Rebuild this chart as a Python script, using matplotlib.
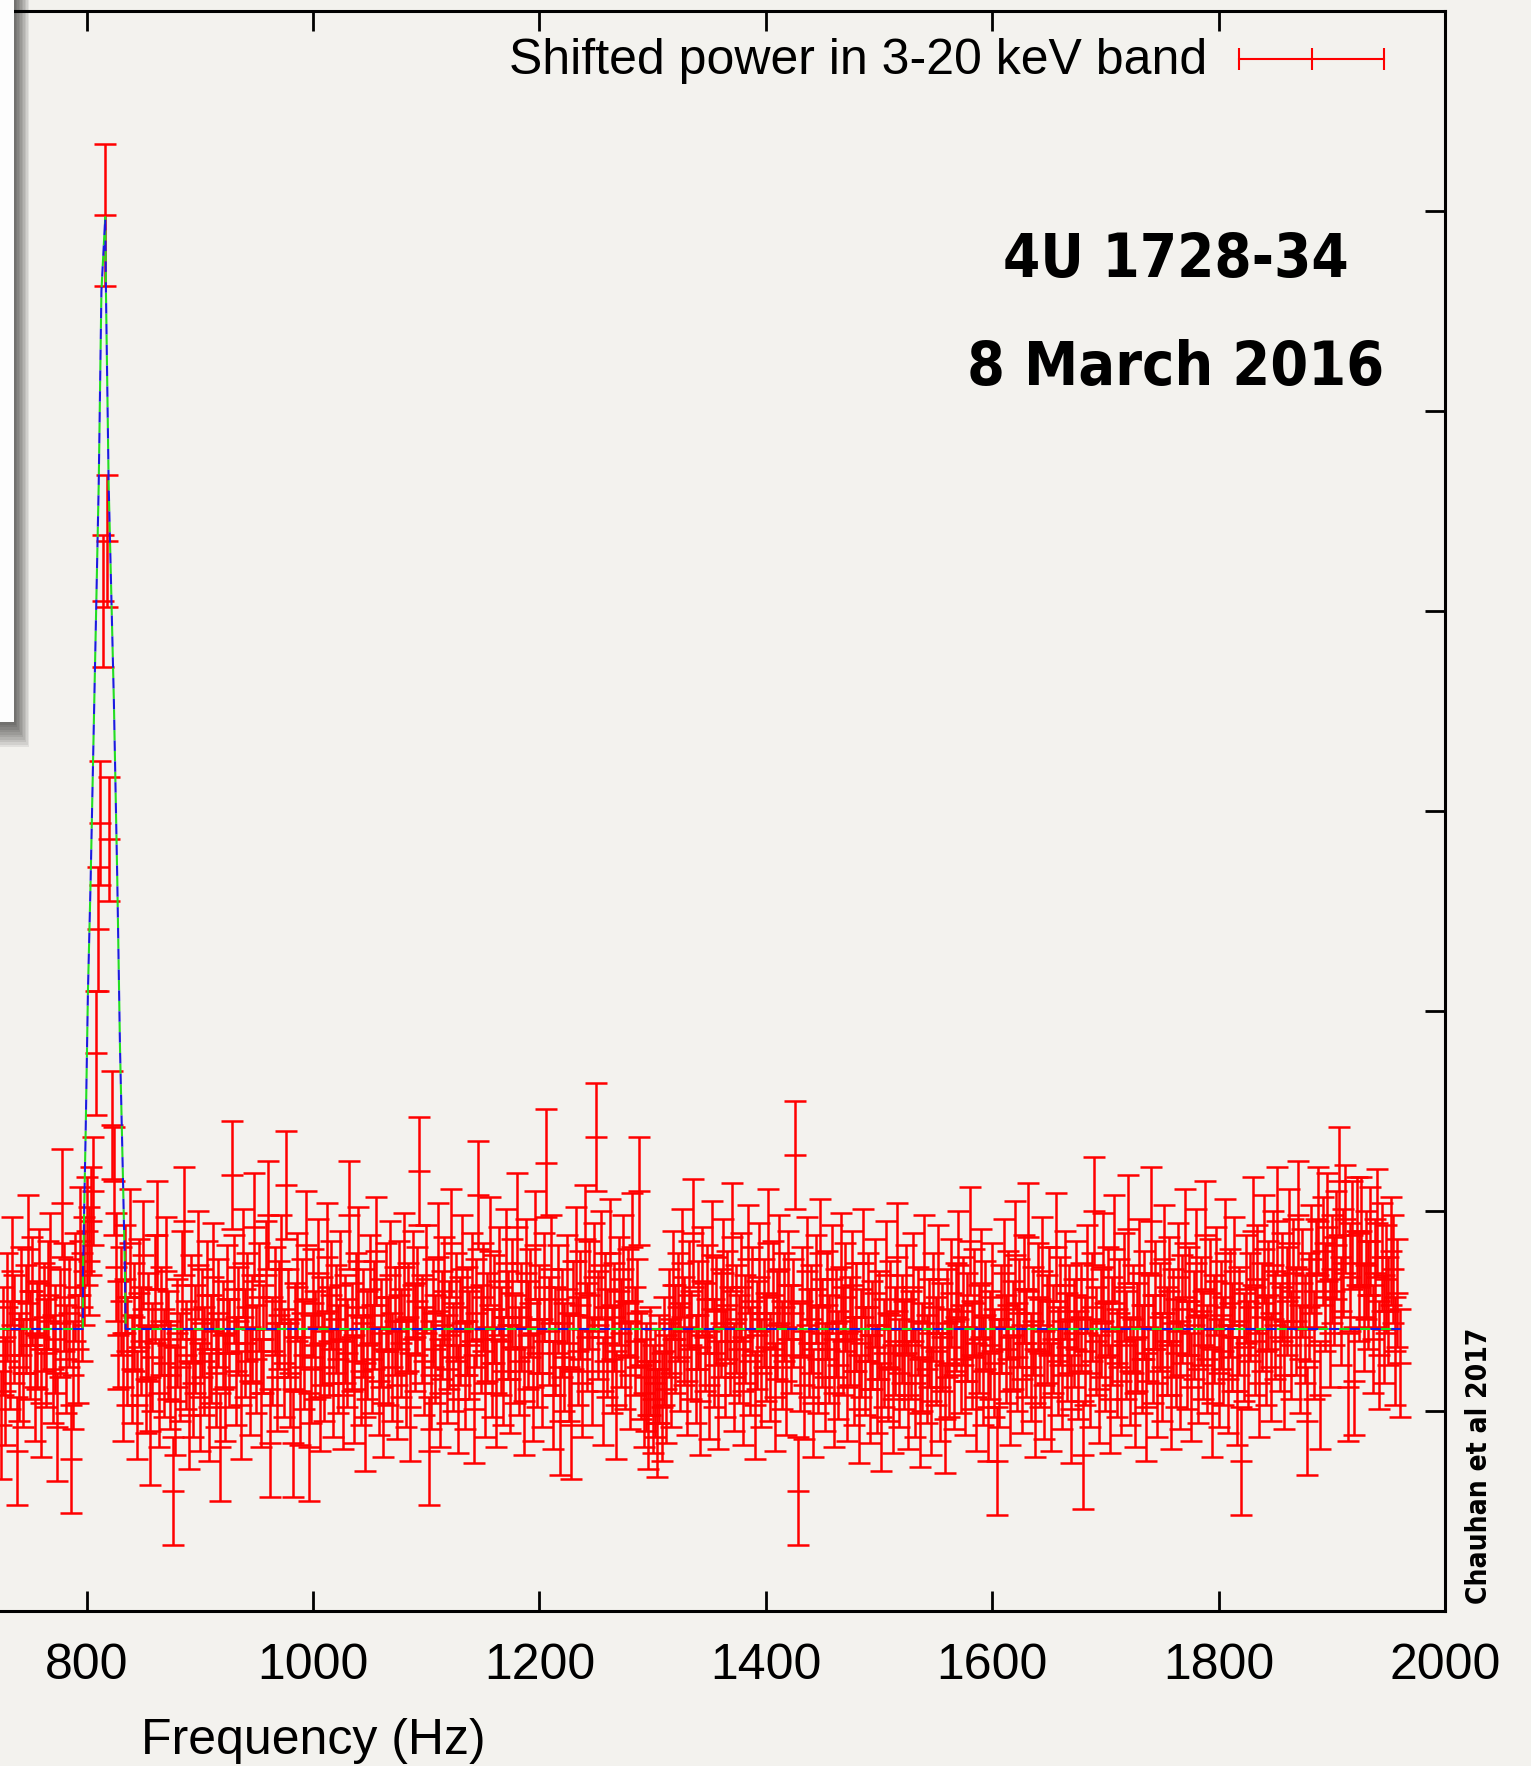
import numpy as np
import matplotlib
matplotlib.use("Agg")
import matplotlib.pyplot as plt
from matplotlib import font_manager
from matplotlib.font_manager import FontProperties
from matplotlib.patches import Rectangle

# averaged, frequency-shifted power spectrum, 2 Hz bins starting at 724 Hz
power = [
    0.93, 1.35, 1.10, 1.52, 1.28, 1.70, 1.41, 0.80, 1.22, 1.55, 1.19, 1.46, 1.81, 1.33, 1.60, 1.12, 1.38, 1.64, 1.04, 1.47, 1.29, 1.58, 1.72, 1.21, 1.36,  # 724
    0.92, 1.44, 2.04, 1.57, 1.26, 1.49, 0.76, 1.18, 1.62, 1.31, 1.85, 1.52, 1.70, 1.90, 1.75, 1.95, 2.10, 2.79, 3.41, 3.94, 5.05, 6.98, 5.35, 3.86, 2.43,  # 774
    2.15, 1.72, 1.38, 1.55, 1.12, 1.66, 1.30, 1.84, 1.21, 1.47, 1.03, 1.59, 1.35, 1.78, 1.16, 1.42, 0.90, 1.27, 1.61, 1.88, 1.09, 1.45, 1.24, 1.70, 1.33,  # 824
    1.18, 0.60, 1.05, 1.39, 1.22, 1.63, 1.95, 1.28, 0.98, 1.51, 1.14, 1.36, 1.73, 1.07, 1.44, 1.25, 1.58, 1.02, 1.31, 1.67, 1.19, 1.49, 0.82, 1.38, 1.12,  # 874
    1.56, 1.29, 2.18, 1.61, 1.20, 1.45, 1.03, 1.74, 1.34, 1.52, 1.15, 1.41, 1.92, 1.26, 1.57, 1.09, 1.36, 1.68, 1.98, 0.84, 1.30, 1.55, 1.17, 1.48, 1.71,  # 924
    1.24, 2.13, 1.44, 1.19, 0.84, 1.37, 1.62, 1.10, 1.49, 1.28, 1.83, 0.82, 1.21, 1.54, 1.33, 1.69, 1.07, 1.40, 1.22, 1.77, 1.35, 1.58, 1.14, 1.46, 1.26,  # 974
    1.63, 1.08, 1.41, 1.29, 1.98, 1.37, 1.11, 1.52, 1.75, 1.20, 1.44, 0.97, 1.33, 1.61, 1.26, 1.48, 1.80, 1.15, 1.39, 1.04, 1.57, 1.30, 1.68, 1.22, 1.45,  # 1024
    1.13, 1.58, 1.34, 1.72, 1.19, 1.47, 1.02, 1.63, 1.37, 1.55, 2.20, 1.41, 1.25, 1.66, 0.80, 1.18, 1.49, 1.31, 1.77, 1.09, 1.43, 1.60, 1.21, 1.38, 1.84,  # 1074
    1.27, 1.52, 1.06, 1.40, 1.71, 1.18, 1.45, 1.33, 1.62, 1.01, 1.49, 2.08, 1.36, 1.57, 1.14, 1.42, 1.80, 1.24, 1.51, 1.09, 1.65, 1.35, 1.20, 1.74, 1.43,  # 1124
    1.16, 1.59, 1.31, 1.92, 1.25, 1.47, 1.05, 1.69, 1.38, 1.54, 1.12, 1.83, 1.29, 1.46, 1.19, 1.62, 2.24, 1.40, 1.71, 1.08, 1.35, 1.56, 0.95, 1.44, 1.27,  # 1174
    1.61, 1.22, 0.93, 1.48, 1.75, 1.30, 1.53, 1.14, 1.86, 1.37, 1.58, 1.20, 1.67, 2.37, 1.43, 1.73, 1.10, 1.52, 1.34, 1.79, 1.26, 1.47, 1.03, 1.60, 1.39,  # 1224
    1.71, 1.28, 1.54, 1.18, 1.82, 1.35, 1.49, 2.10, 1.23, 1.09, 1.17, 0.98, 1.25, 1.06, 1.14, 0.94, 1.21, 1.02, 1.30, 1.11, 1.44, 1.19, 1.63, 1.36, 1.52,  # 1274
    1.27, 1.74, 1.40, 1.15, 1.58, 1.33, 1.89, 1.21, 1.48, 1.05, 1.65, 1.37, 1.56, 1.13, 1.78, 1.29, 1.50, 1.08, 1.44, 1.69, 1.24, 1.53, 1.35, 1.87, 1.17,  # 1324
    1.46, 1.31, 1.62, 1.10, 1.41, 1.76, 1.25, 1.55, 1.03, 1.38, 1.67, 1.19, 1.49, 1.32, 1.84, 1.22, 1.58, 1.07, 1.43, 1.71, 1.28, 1.52, 1.15, 1.63, 1.36,  # 1374
    1.49, 2.28, 0.60, 1.27, 1.55, 1.13, 1.70, 1.34, 1.46, 1.04, 1.61, 1.26, 1.79, 1.39, 1.17, 1.53, 1.31, 1.66, 1.09, 1.44, 1.23, 1.72, 1.35, 1.57, 1.12,  # 1424
    1.40, 1.63, 1.20, 1.47, 1.01, 1.34, 1.74, 1.25, 1.52, 1.11, 1.38, 1.59, 1.16, 1.43, 0.97, 1.29, 1.68, 1.22, 1.48, 1.06, 1.35, 1.77, 1.19, 1.41, 1.28,  # 1474
    1.56, 1.08, 1.33, 1.62, 1.14, 1.45, 0.99, 1.27, 1.71, 1.21, 1.39, 1.05, 1.52, 1.30, 1.66, 1.12, 1.37, 0.96, 1.44, 1.24, 1.59, 1.18, 1.47, 1.73, 1.26,  # 1524
    1.50, 1.15, 1.42, 1.85, 1.28, 1.54, 1.07, 1.36, 1.64, 1.20, 1.48, 1.02, 1.33, 1.57, 1.24, 0.75, 1.19, 1.46, 1.69, 1.31, 1.53, 1.10, 1.38, 1.78, 1.27,  # 1574
    1.49, 1.16, 1.61, 1.34, 1.87, 1.22, 1.45, 1.04, 1.57, 1.29, 1.70, 1.13, 1.41, 1.55, 1.07, 1.36, 1.82, 1.25, 1.50, 1.18, 1.63, 1.32, 1.46, 1.01, 1.39,  # 1624
    1.58, 1.23, 1.47, 0.78, 1.30, 1.66, 1.19, 1.52, 2.00, 1.35, 1.11, 1.44, 1.72, 1.27, 1.55, 1.06, 1.40, 1.81, 1.24, 1.49, 1.15, 1.62, 1.33, 1.91, 1.20,  # 1674
    1.46, 1.09, 1.37, 1.69, 1.26, 1.53, 1.02, 1.42, 1.95, 1.31, 1.58, 1.14, 1.47, 1.22, 1.76, 1.35, 1.60, 1.08, 1.44, 1.29, 1.67, 1.18, 1.51, 1.84, 1.28,  # 1724
    1.55, 1.12, 1.43, 1.74, 1.21, 1.50, 1.33, 1.88, 1.26, 1.59, 1.04, 1.41, 1.65, 1.19, 1.48, 1.30, 1.79, 1.16, 1.54, 1.37, 1.70, 1.10, 1.45, 0.75, 1.32,  # 1774
    1.61, 1.28, 1.52, 1.90, 1.35, 1.66, 1.14, 1.47, 1.81, 1.30, 1.58, 1.22, 1.73, 1.43, 1.95, 1.37, 1.62, 1.18, 1.55, 1.84, 1.33, 1.69, 1.45, 1.98, 1.26,  # 1824
    1.64, 1.41, 0.95, 1.52, 1.76, 1.33, 1.69, 1.95, 1.08, 1.80, 1.57, 1.92, 1.39, 1.71, 1.60, 1.83, 2.15, 1.50, 1.74, 1.96, 1.12, 1.67, 1.88, 1.15, 1.90,  # 1874
    1.62, 1.90, 1.47, 1.73, 1.58, 1.85, 1.36, 1.69, 1.94, 1.28, 1.77, 1.41, 1.66, 1.50, 1.80, 1.71, 1.30, 1.59, 1.24,  # 1924
]
freq = 724 + 2 * np.arange(len(power))

# errors: roughly constant off the peak, a bit larger on the QPO bins
noise_err = 0.27
peak_err = {808: 0.31, 810: 0.31, 812: 0.31, 814: 0.33, 816: 0.355, 818: 0.33, 820: 0.31}
power_err = [peak_err.get(int(f), noise_err) for f in freq]

# best-fit model (constant + QPO)
model_freq = [723.4, 796.6, 796.7, 799.1, 801.1, 803.5, 806.7, 810.6, 813.0, 816.4,
              817.0, 819.4, 824.0, 827.0, 829.4, 832.4, 833.8, 834.4, 1961.0]
model_power = [1.41, 1.41, 1.69, 2.40, 3.10, 3.66, 4.55, 5.63, 6.60, 6.97,
               6.60, 5.63, 4.55, 3.66, 2.82, 2.07, 1.69, 1.41, 1.41]

x_ticks = [800, 1000, 1200, 1400, 1600, 1800, 2000]
y_ticks = [1, 2, 3, 4, 5, 6, 7]

bg = "#f3f2ee"
plt.rcParams["font.family"] = ["Liberation Sans", "DejaVu Sans"]


def bold_narrow_font():
    """A bold condensed face if one is installed, else plain bold sans."""
    for f in font_manager.fontManager.ttflist:
        w = f.weight if isinstance(f.weight, int) else font_manager.weight_dict.get(f.weight, 400)
        squeezed = ("Narrow" in f.name or "Condensed" in f.name
                    or f.stretch in ("condensed", "semi-condensed", "extra-condensed"))
        if squeezed and w >= 600:
            return FontProperties(fname=f.fname)
    return FontProperties(family="Liberation Sans", weight="bold")


W, H = 1531, 1766
fig = plt.figure(figsize=(W / 100, H / 100), dpi=100, facecolor=bg)
ax = fig.add_axes([0, 155 / H, 1445 / W, 1600 / H])
ax.set_facecolor(bg)

ax.errorbar(freq, power, yerr=power_err, fmt="none", ecolor="#ff0000",
            elinewidth=1.8, capsize=7.9, capthick=1.8, zorder=2)
ax.plot(freq, power, ls="none", marker="_", ms=15.8, mew=1.8, color="#ff0000", zorder=2)

# two fits drawn on top of each other, dashes interleaved
ax.plot(model_freq, model_power, color="#22dd22", lw=1.5, linestyle=(0, (5, 5)), zorder=3)
ax.plot(model_freq, model_power, color="#1a1ae0", lw=1.5, linestyle=(5, (5, 5)), zorder=4)

ax.set_xlim(723.4, 2000)
ax.set_ylim(0, 8)
ax.set_xticks(x_ticks)
ax.set_yticks(y_ticks)
ax.tick_params(direction="in", length=14.5, width=2, top=True, right=True,
               left=False, labelleft=False, labelsize=36, pad=23)
for side in ["top", "right", "bottom"]:
    ax.spines[side].set_linewidth(2.2)
ax.spines["left"].set_visible(False)

ax.set_xlabel("Frequency (Hz)", fontsize=36)
ax.xaxis.set_label_coords(0.2166, -0.0894)
ax.xaxis.label.set_va("baseline")

# key
lx0, lxm, lx1, ly = 0.8577, 0.9078, 0.9578, 0.9698
ax.plot([lx0, lx1], [ly, ly], color="#ff0000", lw=1.5, transform=ax.transAxes)
ax.plot([lx0, lxm, lx1], [ly, ly, ly], ls="none", marker="|", ms=15.8, mew=1.5,
        color="#ff0000", transform=ax.transAxes)
ax.text(0.8358, 0.9606, "Shifted power in 3-20 keV band", ha="right", va="baseline",
        fontsize=36, transform=ax.transAxes)

fp = bold_narrow_font()
name1 = ax.text(0.8135, 0.8339, "4U 1728-34", ha="center", va="baseline",
                fontproperties=fp, fontsize=57.5, transform=ax.transAxes)
name2 = ax.text(0.8135, 0.7663, "8 March 2016", ha="center", va="baseline",
                fontproperties=fp, fontsize=57.5, transform=ax.transAxes)
credit = fig.text(1487 / W, (H - 1465.6) / H, "Chauhan et al 2017", rotation=90,
                  rotation_mode="anchor", ha="center", va="baseline",
                  fontproperties=fp, fontsize=27)

# size the bold labels to their printed lengths (pixels)
renderer = fig.canvas.get_renderer()
for txt, length, along in [(name1, 346, "w"), (name2, 417, "w"), (credit, 275, "h")]:
    bb = txt.get_window_extent(renderer)
    cur = bb.width if along == "w" else bb.height
    txt.set_fontsize(txt.get_fontsize() * length / cur)

# overlapping panel with its drop shadow in the top-left corner
bw, bh = 14.3, 722
for k in range(1, 11):
    fig.add_artist(Rectangle((0, (H - bh - 2.5 * k) / H), (bw + 1.5 * k) / W,
                             (bh + 2.5 * k) / H, transform=fig.transFigure,
                             facecolor="black", edgecolor="none", alpha=0.07, zorder=10))
fig.add_artist(Rectangle((0, (H - bh) / H), bw / W, bh / H, transform=fig.transFigure,
                         facecolor="#fdfdfd", edgecolor="none", zorder=11))

fig.savefig("out.png", dpi=100, facecolor=bg)
